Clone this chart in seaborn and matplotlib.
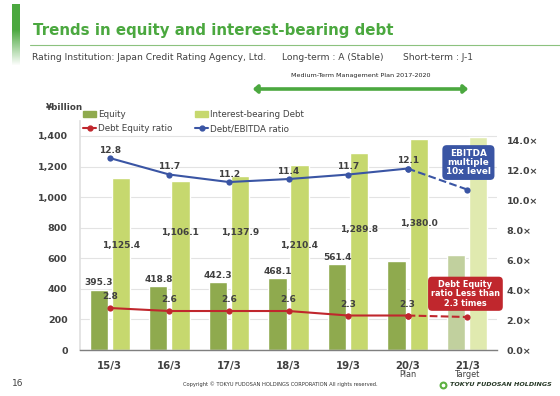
import numpy as np
import pandas as pd
import matplotlib.pyplot as plt
import matplotlib.colors as mcolors
import seaborn as sns
from matplotlib.patches import Patch, FancyArrowPatch
from matplotlib.lines import Line2D

# Data
periods = ["15/3", "16/3", "17/3", "18/3", "19/3", "20/3", "21/3"]
period_notes = ["", "", "", "", "", "Plan", "Target"]
equity = [395.3, 418.8, 442.3, 468.1, 561.4, 581.0, 621.0]
debt = [1125.4, 1106.1, 1137.9, 1210.4, 1289.8, 1380.0, 1395.0]
de_ratio = [2.8, 2.6, 2.6, 2.6, 2.3, 2.3, 2.2]
ebitda_ratio = [12.8, 11.7, 11.2, 11.4, 11.7, 12.1, 10.7]
n_actual = 6          # last period is the target (dashed / faded)
n_equity_labels = 5   # equity figures printed for 15/3..19/3
debt_label_y = [682, 771, 771, 682, 785, 829]  # where the debt figures sit

# colours
green = "#4BA83F"
eq_color = "#8FAA4E"
debt_color = "#C6D86E"
red = "#C0272D"
blue = "#3A55A4"
txt = "#404040"

sns.set_theme(style="white")
plt.rcParams["font.family"] = ["DejaVu Sans"]

fig = plt.figure(figsize=(5.6, 3.96), dpi=100)
W, H = 560, 396


def fx(px):
    return px / W


def fy(py):
    return 1 - py / H


# ---- header ----
grad_ax = fig.add_axes([fx(12), fy(66), 7 / W, 62 / H])
grad = np.concatenate([np.ones(25), np.linspace(1, 0, 37)])[:, None]
grad_ax.imshow(grad, aspect="auto", cmap=mcolors.LinearSegmentedColormap.from_list("g", ["white", green]),
               vmin=0, vmax=1)
grad_ax.axis("off")

fig.text(fx(33), fy(31), "Trends in equity and interest-bearing debt", color=green,
         fontsize=10.8, fontweight="bold", va="center", ha="left")
fig.add_artist(Line2D([fx(30), 1], [fy(44.5), fy(44.5)], color="#8CC27F", lw=0.8, transform=fig.transFigure))
fig.text(fx(32), fy(57), "Rating Institution: Japan Credit Rating Agency, Ltd.", color=txt, fontsize=6.6, va="center")
fig.text(fx(282), fy(57), "Long-term : A (Stable)", color=txt, fontsize=6.6, va="center")
fig.text(fx(403), fy(57), "Short-term : J-1", color=txt, fontsize=6.6, va="center")
fig.text(fx(361), fy(76), "Medium-Term Management Plan 2017-2020", color="#222222", fontsize=4.6,
         ha="center", va="center")
fig.add_artist(FancyArrowPatch((fx(250), fy(89)), (fx(471), fy(89)), transform=fig.transFigure,
                               arrowstyle="<|-|>,head_length=2.5,head_width=2.2", color=green, lw=2.6))

# ---- chart ----
ax = fig.add_axes([fx(80), fy(350), (497 - 80) / W, (350 - 120.7) / H])

df = pd.DataFrame({
    "period": periods * 2,
    "series": ["Equity"] * len(periods) + ["Interest-bearing Debt"] * len(periods),
    "value": equity + debt,
})
sns.barplot(data=df, x="period", y="value", hue="series", palette=[eq_color, debt_color],
            width=0.74, gap=0.17, saturation=1, legend=False, ax=ax, zorder=2)

# fade the target-year bars
for p in ax.patches:
    cx = p.get_x() + p.get_width() / 2
    if cx > n_actual - 0.5:
        fc = np.array(mcolors.to_rgb(p.get_facecolor()))
        p.set_facecolor(0.55 * fc + 0.45)

ax.set_xlim(-0.5, len(periods) - 0.5)
ax.set_ylim(0, 1500)
ax.set_yticks(range(0, 1401, 200))
ax.set_yticklabels([f"{v:,}" for v in range(0, 1401, 200)])
ax.yaxis.grid(True, color="#E3E3E3", lw=0.8, zorder=0)
ax.set_axisbelow(True)
ax.set_xlabel("")
ax.set_ylabel("")
for s in ["top", "right"]:
    ax.spines[s].set_visible(False)
ax.spines["left"].set_color("#E0E0E0")
ax.spines["bottom"].set_color("#7F7F7F")
ax.spines["bottom"].set_linewidth(1.0)
ax.tick_params(axis="y", length=0, pad=9, labelsize=6.8, labelcolor=txt)
ax.tick_params(axis="x", length=0, pad=8, labelsize=7.3, labelcolor=txt)
for lab in ax.get_xticklabels() + ax.get_yticklabels():
    lab.set_fontweight("bold")
ax.set_xticks(np.arange(-0.5, len(periods)), minor=True)
ax.tick_params(axis="x", which="minor", length=3, color="#7F7F7F", direction="out")

for i, note in enumerate(period_notes):
    if note:
        ax.text(i, -0.108, note, transform=ax.get_xaxis_transform(), ha="center", va="center",
                fontsize=5.9, color=txt)

# bar figures
for i in range(n_equity_labels):
    ax.annotate(f"{equity[i]:.1f}", (i - 0.185, equity[i]), xytext=(0, 1.5), textcoords="offset points",
                ha="center", va="bottom", fontsize=6.5, fontweight="bold", color=txt, zorder=5)
for i in range(n_actual):
    ax.text(i + 0.185, debt_label_y[i], f"{debt[i]:,.1f}", ha="center", va="center",
            fontsize=6.5, fontweight="bold", color=txt, zorder=5)

# ratio lines on the right axis
ax2 = ax.twinx()
idx = np.arange(len(periods))
for vals, col in [(de_ratio, red), (ebitda_ratio, blue)]:
    sns.lineplot(x=idx[:n_actual], y=vals[:n_actual], ax=ax2, color=col, lw=1.5,
                 marker="o", markersize=4.5, markeredgewidth=0)
    sns.lineplot(x=idx[n_actual - 1:], y=vals[n_actual - 1:], ax=ax2, color=col, lw=1.5,
                 linestyle="--", marker="o", markersize=4.5, markeredgewidth=0)
ax2.set_ylim(0, 15.29)
ax2.set_yticks(range(0, 15, 2))
ax2.set_yticklabels([f"{v:.1f}×" for v in range(0, 15, 2)])
ax2.tick_params(axis="y", length=0, pad=7, labelsize=6.8, labelcolor=txt)
for lab in ax2.get_yticklabels():
    lab.set_fontweight("bold")
for s in ["top", "right", "left", "bottom"]:
    ax2.spines[s].set_visible(False)
ax2.set_xlim(-0.5, len(periods) - 0.5)

for i in range(n_actual):
    ax2.annotate(f"{ebitda_ratio[i]:.1f}", (i, ebitda_ratio[i]), xytext=(0, 2.5), textcoords="offset points",
                 ha="center", va="bottom", fontsize=6.5, fontweight="bold", color=txt)
    ax2.annotate(f"{de_ratio[i]:.1f}", (i, de_ratio[i]), xytext=(0, 5), textcoords="offset points",
                 ha="center", va="bottom", fontsize=6.5, fontweight="bold", color=txt)

ax2.text(6.02, 12.5, "EBITDA\nmultiple\n10x level", ha="center", va="center", color="white",
         fontsize=6.4, fontweight="bold", linespacing=1.05,
         bbox=dict(boxstyle="round,pad=0.4,rounding_size=0.5", fc=blue, ec="none"))
ax2.text(5.97, 3.75, "Debt Equity\nratio Less than\n2.3 times", ha="center", va="center", color="white",
         fontsize=5.9, fontweight="bold", linespacing=1.1,
         bbox=dict(boxstyle="round,pad=0.35,rounding_size=0.5", fc=red, ec="none"))

# legend
handles = [
    Patch(color=eq_color, label="Equity"),
    Line2D([], [], color=red, lw=1.5, marker="o", markersize=3.5, label="Debt Equity ratio"),
    Patch(color=debt_color, label="Interest-bearing Debt"),
    Line2D([], [], color=blue, lw=1.5, marker="o", markersize=3.5, label="Debt/EBITDA ratio"),
]
fig.legend(handles=handles, ncol=2, loc="upper left", bbox_to_anchor=(fx(83), fy(110)),
           frameon=False, fontsize=6.3, handlelength=1.5, handleheight=0.6, handletextpad=0.2,
           columnspacing=2.6, labelspacing=0.6, borderaxespad=0, borderpad=0, labelcolor=txt)

fig.text(fx(64), fy(108), "¥billion", ha="center", va="center", fontsize=6.3, fontweight="bold", color=txt)

# footer
fig.text(fx(18), fy(384), "16", ha="center", va="center", fontsize=6.5, color=txt)
fig.text(fx(280), fy(384), "Copyright © TOKYU FUDOSAN HOLDINGS CORPORATION All rights reserved.",
         ha="center", va="center", fontsize=3.7, color="#333333")
fig.add_artist(Line2D([fx(443)], [fy(385)], marker="o", markersize=4.2, markerfacecolor="white",
                      markeredgecolor="#5DB040", markeredgewidth=1.5, transform=fig.transFigure))
fig.text(fx(450), fy(385), "TOKYU FUDOSAN HOLDINGS", ha="left", va="center", fontsize=4.6,
         fontweight="bold", fontstyle="italic", color="#263826")

fig.savefig("out.png", dpi=100)
